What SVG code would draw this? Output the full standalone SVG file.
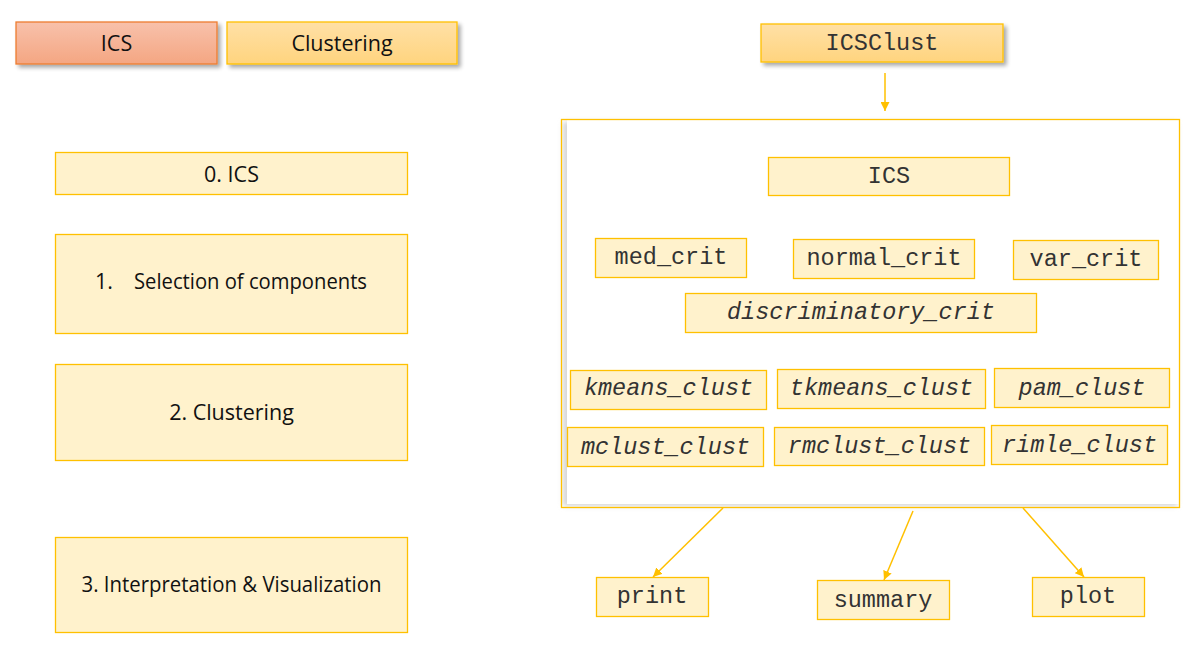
<svg xmlns="http://www.w3.org/2000/svg" width="1201" height="653" viewBox="0 0 1201 653">
<defs>
<linearGradient id="gRed" x1="0" y1="0" x2="0" y2="1"><stop offset="0" stop-color="#F8C1AB"/><stop offset="1" stop-color="#F4A682"/></linearGradient>
<linearGradient id="gOr" x1="0" y1="0" x2="0" y2="1"><stop offset="0" stop-color="#FFE0A6"/><stop offset="1" stop-color="#FFD47E"/></linearGradient>
<filter id="sh" x="-10%" y="-30%" width="130%" height="180%"><feGaussianBlur in="SourceAlpha" stdDeviation="2"/><feOffset dx="3" dy="3" result="b"/><feComponentTransfer><feFuncA type="linear" slope="0.35"/></feComponentTransfer><feMerge><feMergeNode/><feMergeNode in="SourceGraphic"/></feMerge></filter>
<filter id="blur"><feGaussianBlur stdDeviation="2.5"/></filter>
<marker id="ah" viewBox="0 0 10 10" refX="10" refY="5" markerWidth="9" markerHeight="9" markerUnits="userSpaceOnUse" orient="auto"><path d="M0,0 L10,5 L0,10 z" fill="#FFC000"/></marker>
</defs>
<style>
.box{fill:#FFF2CC;stroke:#FFC000;stroke-width:1.3}
.sans{font-family:"Open Sans","Noto Sans","Liberation Sans",sans-serif;font-size:21.5px;fill:#111;text-anchor:middle}
.mono{font-family:"Liberation Mono","DejaVu Sans Mono",monospace;font-size:23.5px;fill:#333;text-anchor:middle}
.it{font-style:italic}
.conn{stroke:#FFC000;stroke-width:1.5;fill:none;marker-end:url(#ah)}
</style>
<rect width="1201" height="653" fill="#FFFFFF"/>

<g id="legend-ics"><rect x="16" y="22" width="201" height="42" fill="url(#gRed)" stroke="#ED7D31" stroke-width="1.3" filter="url(#sh)"/><text class="sans" x="116.5" y="51">ICS</text></g>
<g id="legend-clustering"><rect x="227" y="22" width="230" height="42" fill="url(#gOr)" stroke="#FFC000" stroke-width="1.3" filter="url(#sh)"/><text class="sans" x="342" y="51">Clustering</text></g>

<g id="step0"><rect class="box" x="55.5" y="152.5" width="352" height="42"/><text class="sans" x="231.5" y="182">0. ICS</text></g>
<g id="step1"><rect class="box" x="55.5" y="234.5" width="352" height="99"/><text class="sans" x="95" y="289" style="text-anchor:start">1.</text><text class="sans" x="134" y="289" style="text-anchor:start" textLength="233" lengthAdjust="spacingAndGlyphs">Selection of components</text></g>
<g id="step2"><rect class="box" x="55.5" y="364.5" width="352" height="96"/><text class="sans" x="231.5" y="420">2. Clustering</text></g>
<g id="step3"><rect class="box" x="55.5" y="537.5" width="352" height="95"/><text class="sans" x="231.5" y="592" textLength="300" lengthAdjust="spacingAndGlyphs">3. Interpretation &amp; Visualization</text></g>

<g id="icsclust"><rect x="761" y="24" width="242" height="38" fill="url(#gOr)" stroke="#FFC000" stroke-width="1.3" filter="url(#sh)"/><text class="mono" x="882" y="50">ICSClust</text></g>

<g id="container">
<rect x="563" y="122" width="614" height="384" fill="#D6D6D6" filter="url(#blur)"/>
<rect x="567" y="119" width="612" height="385" fill="#FFFFFF"/>
<rect x="561.5" y="119.5" width="618" height="388" fill="none" stroke="#FFC000" stroke-width="1.3"/>
</g>

<g id="n-ics"><rect class="box" x="768.5" y="157.5" width="241" height="38"/><text class="mono" x="889" y="183">ICS</text></g>
<g id="n-med"><rect class="box" x="595.5" y="238.5" width="151" height="39"/><text class="mono" x="671" y="264">med_crit</text></g>
<g id="n-normal"><rect class="box" x="793.5" y="239.5" width="181" height="39"/><text class="mono" x="884" y="265">normal_crit</text></g>
<g id="n-var"><rect class="box" x="1013.5" y="240.5" width="145" height="39"/><text class="mono" x="1086" y="266">var_crit</text></g>
<g id="n-disc"><rect class="box" x="685.5" y="293.5" width="351" height="39"/><text class="mono it" x="861" y="319">discriminatory_crit</text></g>
<g id="n-kmeans"><rect class="box" x="570.5" y="370.5" width="196" height="39"/><text class="mono it" x="668.5" y="395">kmeans_clust</text></g>
<g id="n-tkmeans"><rect class="box" x="777.5" y="369.5" width="208" height="39"/><text class="mono it" x="881.5" y="395">tkmeans_clust</text></g>
<g id="n-pam"><rect class="box" x="994.5" y="368.5" width="175" height="39"/><text class="mono it" x="1082" y="394.5">pam_clust</text></g>
<g id="n-mclust"><rect class="box" x="567.5" y="427.5" width="196" height="39"/><text class="mono it" x="665.5" y="454">mclust_clust</text></g>
<g id="n-rmclust"><rect class="box" x="774.5" y="427.5" width="210" height="38"/><text class="mono it" x="879.5" y="453">rmclust_clust</text></g>
<g id="n-rimle"><rect class="box" x="991.5" y="425.5" width="176" height="39"/><text class="mono it" x="1079.5" y="451.5">rimle_clust</text></g>

<g id="n-print"><rect class="box" x="596.5" y="577.5" width="112" height="39"/><text class="mono" x="652" y="603">print</text></g>
<g id="n-summary"><rect class="box" x="817.5" y="580.5" width="132" height="39"/><text class="mono" x="883" y="606.5">summary</text></g>
<g id="n-plot"><rect class="box" x="1032.5" y="577.5" width="112" height="39"/><text class="mono" x="1088" y="603">plot</text></g>

<g id="connectors">
<line class="conn" x1="885" y1="73" x2="885" y2="111"/>
<line class="conn" x1="723" y1="508" x2="653" y2="577"/>
<line class="conn" x1="913" y1="511" x2="884" y2="580"/>
<line class="conn" x1="1023" y1="508" x2="1084" y2="577"/>
</g>
</svg>
